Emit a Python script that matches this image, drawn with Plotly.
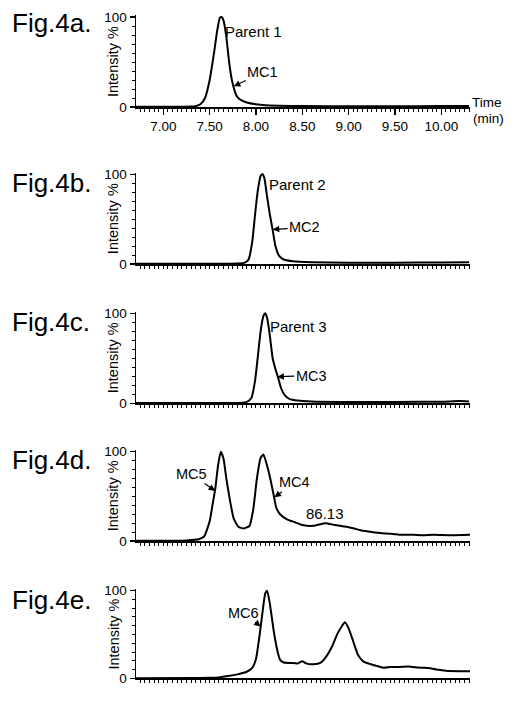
import plotly.graph_objects as go

W, H = 518, 702
FONT = "Liberation Sans, Arial, Helvetica, sans-serif"

# ---------------- data (retention time, min ; intensity %) ----------------
t_a = [6.70, 7.00, 7.20, 7.30, 7.35, 7.40, 7.45, 7.50, 7.55, 7.58, 7.61, 7.63, 7.65, 7.68,
       7.71, 7.74, 7.77, 7.80, 7.85, 7.90, 8.00, 8.10, 8.25, 8.50, 9.00, 9.50, 10.00, 10.30]
i_a = [0.3, 0.3, 0.3, 0.5, 1, 3, 10, 30, 62, 84, 99, 100, 96, 78,
       50, 30, 18, 11, 7, 5, 3, 2, 1.5, 1, 0.8, 0.8, 1, 1]

t_b = [6.70, 7.50, 7.80, 7.88, 7.92, 7.96, 7.99, 8.02, 8.05, 8.07, 8.09, 8.12, 8.15, 8.18,
       8.21, 8.25, 8.30, 8.40, 8.60, 9.00, 9.50, 10.00, 10.30]
i_b = [0.2, 0.2, 0.5, 1.5, 5, 25, 55, 82, 98, 100, 96, 75, 55, 38,
       20, 9, 5, 3, 2, 1.5, 1.5, 1.8, 2]

t_c = [6.70, 7.50, 7.85, 7.90, 7.95, 7.99, 8.02, 8.05, 8.08, 8.10, 8.12, 8.15, 8.18, 8.21,
       8.24, 8.27, 8.31, 8.36, 8.45, 8.60, 9.00, 9.50, 10.00, 10.20, 10.30]
i_c = [0.2, 0.2, 0.5, 1.5, 6, 25, 52, 80, 97, 100, 95, 75, 50, 38,
       28, 17, 9, 5, 3, 2, 1.5, 1.5, 1.8, 2.5, 2]

t_d = [6.70, 7.20, 7.30, 7.38, 7.44, 7.50, 7.53, 7.56, 7.59, 7.62, 7.65, 7.68, 7.72, 7.76,
       7.81, 7.87, 7.93, 7.97, 8.01, 8.05, 8.08, 8.11, 8.15, 8.19, 8.22, 8.26, 8.34, 8.42,
       8.50, 8.62, 8.75, 8.85, 8.98, 9.06, 9.13, 9.25, 9.34, 9.45, 9.56, 9.70, 9.80, 9.92,
       10.10, 10.31]
i_d = [0.3, 0.3, 1, 2, 5, 22, 40, 58, 84, 100, 92, 70, 45, 25,
       16, 14, 17, 35, 70, 93, 97, 88, 72, 52, 37, 30, 24, 21,
       18, 17, 20, 18, 16, 14, 12, 10, 9, 8, 7, 7, 6.5, 7,
       6.5, 7]

t_e = [6.70, 7.30, 7.50, 7.60, 7.70, 7.80, 7.90, 7.96, 8.00, 8.04, 8.07, 8.10, 8.12, 8.15,
       8.19, 8.23, 8.26, 8.30, 8.38, 8.45, 8.50, 8.54, 8.62, 8.70, 8.76, 8.82, 8.88, 8.93,
       8.96, 9.00, 9.05, 9.10, 9.16, 9.24, 9.31, 9.38, 9.45, 9.55, 9.65, 9.72, 9.80, 9.88,
       9.95, 10.05, 10.20, 10.31]
i_e = [0.2, 0.3, 0.5, 1, 2.5, 4.5, 7.5, 12, 22, 50, 75, 97, 100, 85,
       55, 32, 21, 18, 17.5, 17, 19.5, 17, 16, 18, 25, 36, 51, 60,
       64, 57, 42, 27, 19, 16, 14, 12, 13, 13, 13.5, 12.5, 12, 11.5,
       10, 8.5, 8, 8]

fig_labels = ["Fig.4a.", "Fig.4b.", "Fig.4c.", "Fig.4d.", "Fig.4e."]
x_tick_vals = [7.00, 7.50, 8.00, 8.50, 9.00, 9.50, 10.00]
x_tick_text = ["7.00", "7.50", "8.00", "8.50", "9.00", "9.50", "10.00"]

series = [(t_a, i_a), (t_b, i_b), (t_c, i_c), (t_d, i_d), (t_e, i_e)]

# ---------------- layout geometry (pixels) ----------------
X_LEFT, X_RIGHT = 136, 470
panels_px = [(17, 107), (174.3, 264), (313.3, 403.3), (451.7, 541), (590.7, 678.3)]  # (y of 100, y of 0)
label_y = [23, 183, 322, 460, 600]
YMAX = 102
XR = [6.705, 10.31]

fig = go.Figure()
layout = dict(
    width=W, height=H, autosize=False,
    margin=dict(l=0, r=0, t=0, b=0, pad=0, autoexpand=False),
    paper_bgcolor="white", plot_bgcolor="white",
    showlegend=False,
    font=dict(family=FONT, color="black"),
)
annotations = []

for k, ((t, inten), (ytop, yzero)) in enumerate(zip(series, panels_px)):
    n = "" if k == 0 else str(k + 1)
    h100 = yzero - ytop
    top_px = yzero - h100 * YMAX / 100.0
    ydom = [1 - yzero / H, 1 - top_px / H]
    xdom = [X_LEFT / W, X_RIGHT / W]
    fig.add_trace(go.Scatter(x=t, y=inten, mode="lines",
                             line=dict(color="black", width=2, shape="spline", smoothing=0.5),
                             xaxis="x" + n, yaxis="y" + n, hoverinfo="skip"))
    layout["xaxis" + n] = dict(
        domain=xdom, anchor="y" + n, range=XR, showgrid=False, zeroline=False,
        automargin=False,
        showline=True, linecolor="black", linewidth=1.5,
        ticks="outside", ticklen=6, tickwidth=1.2, tickcolor="black",
        tickvals=x_tick_vals, ticktext=x_tick_text if k == 0 else [""] * len(x_tick_vals),
        showticklabels=(k == 0),
        tickfont=dict(size=13.5, family=FONT),
        minor=dict(dtick=0.05, tick0=7.0, ticks="outside", ticklen=3, tickwidth=1, tickcolor="black"),
    )
    layout["yaxis" + n] = dict(
        domain=ydom, anchor="x" + n, range=[0, YMAX], showgrid=False, zeroline=False,
        automargin=False,
        showline=True, linecolor="black", linewidth=1.5,
        ticks="outside", ticklen=5, tickwidth=1.2, tickcolor="black",
        tickvals=[0, 100], ticktext=["0", "100"],
        tickfont=dict(size=13.5, family=FONT),
        minor=dict(dtick=10, tick0=0, ticks="outside", ticklen=3, tickwidth=1, tickcolor="black"),
    )
    # figure label
    annotations.append(dict(text=fig_labels[k], xref="paper", yref="paper",
                            x=10 / W, y=1 - label_y[k] / H, xanchor="left", yanchor="middle",
                            showarrow=False, font=dict(size=26, family=FONT)))
    # y-axis title
    annotations.append(dict(text="Intensity %", xref="paper", yref="paper",
                            x=113 / W, y=1 - (ytop + yzero) / 2 / H, xanchor="center", yanchor="middle",
                            textangle=-90, showarrow=False, font=dict(size=14.5, family=FONT)))

# Time (min) label
annotations.append(dict(text="Time", xref="paper", yref="paper", x=470 / W, y=1 - 103 / H,
                        xanchor="left", yanchor="middle", showarrow=False, font=dict(size=13.5)))
annotations.append(dict(text="(min)", xref="paper", yref="paper", x=471 / W, y=1 - 118 / H,
                        xanchor="left", yanchor="middle", showarrow=False, font=dict(size=13.5)))

# Peak labels
def lab(text, x, y, n, size=15):
    annotations.append(dict(text=text, x=x, y=y, xref="x" + n, yref="y" + n,
                            showarrow=False, font=dict(size=size), xanchor="center", yanchor="middle"))

def arr(text, x, y, n, ax, ay, size=14.5):
    annotations.append(dict(text=text, x=x, y=y, xref="x" + n, yref="y" + n,
                            showarrow=True, ax=ax, ay=ay, arrowhead=2, arrowsize=1.1,
                            arrowwidth=1.2, arrowcolor="black", standoff=0, startstandoff=0,
                            font=dict(size=size)))

lab("Parent 1", 7.97, 84, "")
arr("MC1", 7.76, 23, "", 29, -14)
lab("Parent 2", 8.45, 88.6, "2")
arr("MC2", 8.18, 38.5, "2", 32, -2)
lab("Parent 3", 8.46, 85, "3")
arr("MC3", 8.23, 29.6, "3", 34, -1)
arr("MC5", 7.56, 56, "4", -24, -17)
arr("MC4", 8.20, 49, "4", 20, -15)
lab("86.13", 8.75, 31, "4", size=15)
arr("MC6", 8.05, 59, "5", -17, -14)

layout["annotations"] = annotations
fig.update_layout(**layout)
post = ("document.documentElement.style.margin='0';document.body.style.margin='0';"
        "document.documentElement.style.overflow='hidden';document.body.style.overflow='hidden';"
        "var g=document.getElementById('{plot_id}');g.style.position='fixed';"
        "g.style.top='0px';g.style.left='0px';")
fig.write_html("out.html", config={"displayModeBar": False, "staticPlot": True},
               post_script=post)
